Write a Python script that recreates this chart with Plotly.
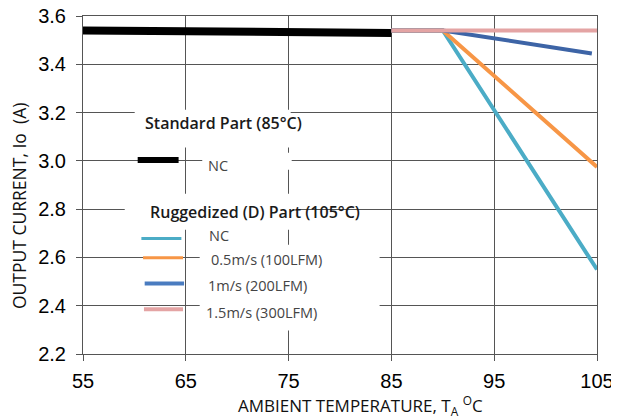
import plotly.graph_objects as go

# ---- data ----
temp_std = [55, 85]
cur_std = [3.54, 3.53]

temp_rug = [85, 90, 105]
cur_nc = [3.54, 3.54, 2.55]
cur_05 = [3.54, 3.54, 2.975]
temp_1 = [85, 90, 104.5]
cur_1 = [3.54, 3.54, 3.445]
temp_15 = [85, 105]
cur_15 = [3.54, 3.54]

x_ticks = [55, 65, 75, 85, 95, 105]
y_ticks = [2.2, 2.4, 2.6, 2.8, 3.0, 3.2, 3.4, 3.6]

c_black = "#000000"
c_teal = "#4bacc6"
c_orange = "#f79646"
c_blue = "#3d64a6"
c_blue_leg = "#4a7cc0"
c_pink = "#e4a4a4"
grid = "#555555"

fig = go.Figure()
fig.add_trace(go.Scatter(x=temp_std, y=cur_std, mode="lines",
                         line=dict(color=c_black, width=8), showlegend=False))
fig.add_trace(go.Scatter(x=temp_rug, y=cur_nc, mode="lines",
                         line=dict(color=c_teal, width=4), showlegend=False))
fig.add_trace(go.Scatter(x=temp_rug, y=cur_05, mode="lines",
                         line=dict(color=c_orange, width=4), showlegend=False))
fig.add_trace(go.Scatter(x=temp_1, y=cur_1, mode="lines",
                         line=dict(color=c_blue, width=4), showlegend=False))
fig.add_trace(go.Scatter(x=temp_15, y=cur_15, mode="lines",
                         line=dict(color=c_pink, width=4), showlegend=False))

shapes = []
# white boxes behind legend text (break the gridlines)
for x0, x1, y0, y1 in [(60.03, 75.2, 3.055, 3.212),
                       (66.6, 75.3, 2.963, 3.034),
                       (59.06, 76.1, 2.715, 2.864),
                       (66.35, 83.85, 2.297, 2.653)]:
    shapes.append(dict(type="rect", xref="x", yref="y", x0=x0, x1=x1, y0=y0, y1=y1,
                       fillcolor="white", line=dict(width=0), layer="between"))
# legend sample lines
for x0, x1, y, col, w in [(60.32, 64.3, 3.004, c_black, 6),
                          (60.68, 64.57, 2.678, c_teal, 3),
                          (60.84, 64.73, 2.599, c_orange, 3),
                          (61.0, 64.83, 2.4915, c_blue_leg, 4),
                          (60.93, 64.73, 2.385, c_pink, 4)]:
    shapes.append(dict(type="line", xref="x", yref="y", x0=x0, x1=x1, y0=y, y1=y,
                       line=dict(color=col, width=w), layer="above"))

ann = []
leg_font = "Open Sans"
for x, y, t, col, bold in [(60.84, 3.158, "Standard Part (85°C)", "#1a1a1a", True),
                           (67.0, 2.979, "NC", "#444444", False),
                           (61.32, 2.790, "Ruggedized (D) Part (105°C)", "#1a1a1a", True),
                           (67.06, 2.689, "NC", "#444444", False),
                           (67.26, 2.592, "0.5m/s (100LFM)", "#444444", False),
                           (66.94, 2.482, "1m/s (200LFM)", "#444444", False),
                           (66.74, 2.371, "1.5m/s (300LFM)", "#444444", False)]:
    ann.append(dict(x=x, y=y, xref="x", yref="y", text=t, showarrow=False,
                    xanchor="left", yanchor="middle",
                    font=dict(family=leg_font, size=16 if bold else 14.5, color=col,
                              weight=600 if bold else 400)))

# page offset (body margin) compensation
OX, OY = 8, 10
ann.append(dict(x=19 - OX, y=208 - OY, xref="paper", yref="paper",
                text="OUTPUT CURRENT, Io  (A)",
                showarrow=False, textangle=-90, xanchor="center", yanchor="middle",
                font=dict(family="Open Sans", size=17.5, color="#111111")))
ann.append(dict(x=360 - OX, y=407 - OY, xref="paper", yref="paper",
                text="AMBIENT TEMPERATURE, T<sub>A</sub> <sup>O</sup>C",
                showarrow=False, xanchor="center", yanchor="middle",
                font=dict(family="Open Sans", size=17, color="#111111")))

W, H = 619 - OX, 419 - OY
L, T = 83 - OX, 18 - OY
pw, ph = 514, 338
R, B = W - L - pw, H - T - ph
for a in ann[-2:]:
    a["x"] = (a["x"] - L) / pw
    a["y"] = (H - B - a["y"]) / ph

fig.update_layout(
    width=W, height=H, autosize=False,
    margin=dict(l=L, r=R, t=T, b=B, pad=0, autoexpand=False),
    paper_bgcolor="white", plot_bgcolor="white",
    shapes=shapes, annotations=ann,
    showlegend=False,
    xaxis=dict(range=[55, 105], tickvals=x_ticks, ticktext=[str(v) for v in x_ticks],
               showgrid=True, gridcolor=grid, gridwidth=1, zeroline=False,
               showline=True, linecolor=grid, linewidth=1, mirror=True,
               ticks="outside", ticklen=6, tickcolor=grid, automargin=False,
               ticklabelstandoff=3, ticklabeloverflow="allow",
               tickfont=dict(family="Liberation Sans", size=20, color="black")),
    yaxis=dict(range=[2.2, 3.6], tickvals=y_ticks, ticktext=[f"{v:.1f}" for v in y_ticks],
               showgrid=True, gridcolor=grid, gridwidth=1, zeroline=False,
               showline=True, linecolor=grid, linewidth=1, mirror=True,
               ticks="outside", ticklen=6, tickcolor=grid, automargin=False,
               ticklabelstandoff=6, ticklabeloverflow="allow",
               tickfont=dict(family="Liberation Sans", size=20, color="black")),
)

fig.write_html("out.html")
